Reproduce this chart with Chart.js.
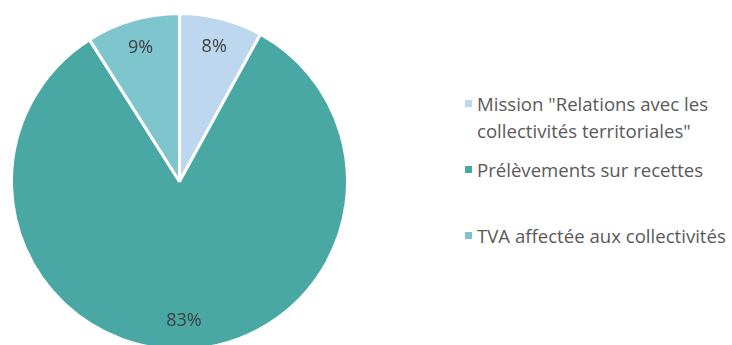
<!DOCTYPE html>
<html>
<head>
<meta charset="utf-8">
<script src="https://cdn.jsdelivr.net/npm/chart.js@4"></script>
<style>
  html, body { margin: 0; padding: 0; background: #fff; overflow: hidden; }
  body { width: 732px; height: 345px; position: relative; font-family: "Open Sans", sans-serif; }
  #pieWrap { position: absolute; left: 10px; top: 12px; width: 339px; height: 339px; }
  #legend { position: absolute; left: 465px; top: 0; color: #595959; font-size: 18.6px; line-height: 27px; }
  .item { position: absolute; left: 0; white-space: nowrap; }
  .item i { position: absolute; left: 0; top: 10px; width: 7px; height: 7px; }
  .item span { display: block; margin-left: 12px; }
</style>
</head>
<body>
<div id="pieWrap"><canvas id="shareChart" width="339" height="339"></canvas></div>
<div id="legend"></div>
<script>
const categories = [
    'Mission "Relations avec les\ncollectivités territoriales"',
    'Prélèvements sur recettes',
    'TVA affectée aux collectivités'
];
const shares = [8, 83, 9];
const sliceColors = ['#BDD7EE', '#49A8A3', '#7FC5CE'];

// legend rows sit at fixed heights, like the original layout
const legendTops = [90, 156, 222];

// percentage text drawn inside each slice
const sliceLabels = {
    id: 'sliceLabels',
    afterDatasetsDraw(chart) {
        const ctx = chart.ctx;
        const meta = chart.getDatasetMeta(0);
        ctx.save();
        ctx.font = '18px "Open Sans", sans-serif';
        ctx.fillStyle = '#404040';
        ctx.textAlign = 'center';
        ctx.textBaseline = 'middle';
        meta.data.forEach((arc, i) => {
            const p = arc.getProps(['x', 'y', 'startAngle', 'endAngle', 'outerRadius']);
            const mid = (p.startAngle + p.endAngle) / 2;
            const d = p.outerRadius * 0.83;
            ctx.fillText(shares[i] + '%', p.x + Math.cos(mid) * d, p.y + Math.sin(mid) * d);
        });
        ctx.restore();
    }
};

new Chart(document.getElementById('shareChart').getContext('2d'), {
    type: 'pie',
    data: {
        labels: categories,
        datasets: [{
            data: shares,
            backgroundColor: sliceColors,
            borderColor: '#ffffff',
            borderWidth: 3
        }]
    },
    options: {
        responsive: false,
        animation: false,
        layout: { padding: 0 },
        plugins: {
            legend: { display: false },
            tooltip: { enabled: false }
        }
    },
    plugins: [sliceLabels]
});

// build the legend next to the pie
const legend = document.getElementById('legend');
categories.forEach((label, i) => {
    const item = document.createElement('div');
    item.className = 'item';
    item.style.top = legendTops[i] + 'px';
    const box = document.createElement('i');
    box.style.background = sliceColors[i];
    const text = document.createElement('span');
    text.innerHTML = label.split('\n').join('<br>');
    item.appendChild(box);
    item.appendChild(text);
    legend.appendChild(item);
});
</script>
</body>
</html>
